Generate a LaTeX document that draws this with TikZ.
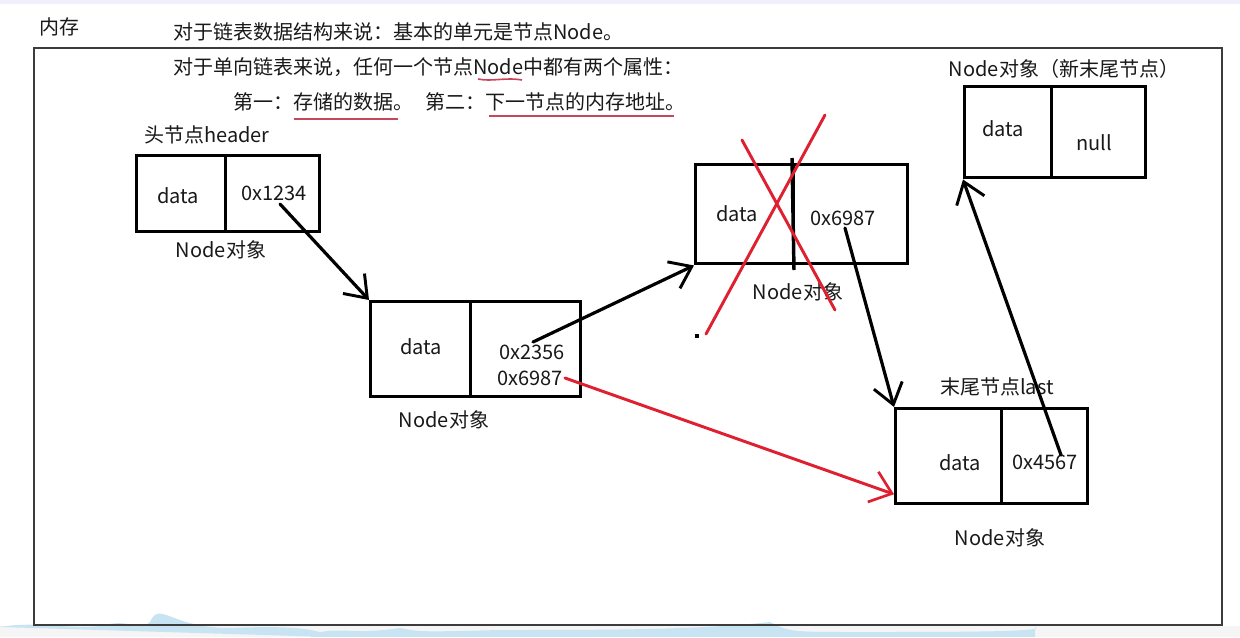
\documentclass[tikz,border=0pt]{standalone}
\usepackage{fontspec}
\setmainfont{Noto Sans CJK SC}
\usetikzlibrary{arrows.meta}
\definecolor{penred}{RGB}{222,32,48}
\definecolor{ulred}{RGB}{200,70,90}
\definecolor{framegray}{RGB}{60,60,60}
\definecolor{wave}{RGB}{200,228,242}
\begin{document}
\begin{tikzpicture}[x=0.75pt,y=-0.75pt,
  txt/.style={inner sep=0pt,font=\fontsize{15pt}{18pt}\selectfont,text=black!90},
  cell/.style={draw=black,line width=2.6pt,anchor=north west,inner sep=0pt},
  pen/.style={draw=black,line width=2.4pt,line cap=round,-{Straight Barb[length=15pt,width=22pt,line width=2.2pt]}},
  redpen/.style={draw=penred,line width=2.2pt,line cap=round},
  ul/.style={draw=ulred,line width=1.2pt}]
\useasboundingbox (0,0) rectangle (1240,637);
\fill[white] (0,0) rectangle (1240,637);
% top strip and bottom decoration
\fill[black!12!blue!6] (0,0) rectangle (1240,4);
\fill[black!4] (0,626) rectangle (1240,637);
\fill[wave] (0,627) .. controls (40,620) and (80,632) .. (110,624) .. controls (130,620) and (140,632) .. (150,622) .. controls (160,600) and (170,628) .. (230,628) .. controls (300,625) and (320,630) .. (330,637) -- cycle;
\fill[wave] (310,637) .. controls (330,624) and (350,636) .. (400,628) .. controls (420,632) .. (500,630) .. controls (600,630) and (700,630) .. (770,622) .. controls (790,632) .. (860,632) .. controls (950,632) and (1050,632) .. (1035,627) -- (1035,637) -- cycle;
% frame
\node[draw=framegray,line width=1.3pt,anchor=north west,inner sep=0pt,minimum width=1188*0.75pt,minimum height=577*0.75pt] (frame) at (33,47) {};
% header texts
\node[txt] (mem) at (59,27) {内存};
\node[txt,anchor=west] (l1) at (173,32) {对于链表数据结构来说：基本的单元是节点Node。};
\node[txt,anchor=west] (l2) at (173,67) {对于单向链表来说，任何一个节点Node中都有两个属性：};
\node[txt,anchor=west] (l3a) at (233,102) {第一：存储的数据。};
\node[txt,anchor=west] (l3b) at (425,102) {第二：下一节点的内存地址。};
\coordinate (u1a) at (294,119); \coordinate (u1b) at (398,119);
\coordinate (u2a) at (489,116); \coordinate (u2b) at (674,116);
\coordinate (u3a) at (478,79); \coordinate (u3b) at (522,80);
\draw[ul] (u1a) -- (u1b);
\draw[ul] (u2a) -- (u2b);
\draw[ul] (u3a) .. controls (492,82) and (505,77) .. (u3b);
% node 1 (header)
\node[cell,minimum width=89*0.75pt,minimum height=76*0.75pt] (n1d) at (135,154) {};
\node[cell,minimum width=94*0.75pt,minimum height=76*0.75pt] (n1p) at (224,154) {};
\node[txt] (h1) at (207,135) {头节点header};
\node[txt] (t1d) at (178,196) {data};
\node[txt] (t1p) at (274,193) {0x1234};
\node[txt] (c1) at (221,250) {Node对象};
% node 2
\node[cell,minimum width=100*0.75pt,minimum height=95*0.75pt] (n2d) at (369,300) {};
\node[cell,minimum width=110*0.75pt,minimum height=95*0.75pt] (n2p) at (469,300) {};
\node[txt] (t2d) at (421,347) {data};
\node[txt] (t2p) at (532,352) {0x2356};
\node[txt] (t2q) at (530,378) {0x6987};
\node[txt] (c2) at (444,420) {Node对象};
% node 3 (removed)
\node[cell,minimum width=98*0.75pt,minimum height=99*0.75pt] (n3d) at (694,163) {};
\node[cell,minimum width=114*0.75pt,minimum height=99*0.75pt] (n3p) at (792,163) {};
\coordinate (n3x1) at (792,158); \coordinate (n3x2) at (794,270);
\draw[line width=2.6pt] (n3x1) -- (n3x2);
\node[txt] (t3d) at (737,214) {data};
\node[txt] (t3p) at (843,218) {0x6987};
\node[txt] (c3) at (798,292) {Node对象};
\fill[black] (695,334) rectangle (699,338);
% node 4 (new tail)
\node[cell,minimum width=87*0.75pt,minimum height=91*0.75pt] (n4d) at (963,85) {};
\node[cell,minimum width=94*0.75pt,minimum height=91*0.75pt] (n4p) at (1050,85) {};
\node[txt] (h4) at (1064,69) {Node对象（新末尾节点）};
\node[txt] (t4d) at (1003,129) {data};
\node[txt] (t4p) at (1094,143) {null};
% node 5 (last)
\node[cell,minimum width=106*0.75pt,minimum height=95*0.75pt] (n5d) at (894,407) {};
\node[cell,minimum width=86*0.75pt,minimum height=95*0.75pt] (n5p) at (1000,407) {};
\node[txt] (h5) at (997,387) {末尾节点last};
\node[txt] (t5d) at (960,463) {data};
\node[txt] (t5p) at (1045,462) {0x4567};
\node[txt] (c5) at (1000,538) {Node对象};
% connectors
\coordinate (s1) at (280,204);
\coordinate (s2) at (533,342);
\coordinate (s3) at (845,228);
\coordinate (s4) at (1061,455);
\coordinate (s5) at (565,378);
\draw[pen] (s1) -- (n2d.north west);
\draw[pen] (s2) -- (n3d.south west);
\draw[pen] (s3) -- (n5d.north west);
\draw[pen] (s4) -- (n4d.south west);
\draw[redpen,-{Straight Barb[length=15pt,width=24pt,line width=2pt]}] (s5) -- ([yshift=-0.75pt*38]n5d.west);
% red cross
\coordinate (xa1) at (742,140); \coordinate (xa2) at (835,310);
\coordinate (xb1) at (825,115); \coordinate (xb2) at (706,334);
\draw[redpen] (xa1) -- (xa2);
\draw[redpen] (xb1) -- (xb2);
\end{tikzpicture}
\end{document}
